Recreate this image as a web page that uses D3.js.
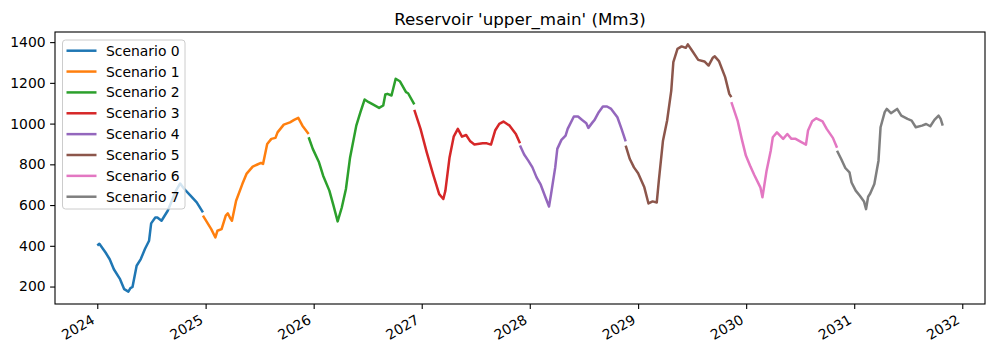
<!DOCTYPE html>
<html>
<head>
<meta charset="utf-8">
<script src="https://cdn.jsdelivr.net/npm/d3@7"></script>
<style>
  body { margin: 0; background: #fff; }
  svg { font-family: "DejaVu Sans", sans-serif; }
</style>
</head>
<body>
<div id="container"></div>
<script>
/* DATA */
// each scenario: [week offset within scenario, storage Mm3]
const scenarioNames = ["Scenario 0", "Scenario 1", "Scenario 2", "Scenario 3",
  "Scenario 4", "Scenario 5", "Scenario 6", "Scenario 7"]
const colors = ["#1f77b4", "#ff7f0e", "#2ca02c", "#d62728",
  "#9467bd", "#8c564b", "#e377c2", "#7f7f7f"]
const firstDate = new Date(2024, 0, 1)
const weeksPerScenario = 51
const yTicks = [200, 400, 600, 800, 1000, 1200, 1400]
const xTickYears = [2024, 2025, 2026, 2027, 2028, 2029, 2030, 2031, 2032]

const s0 = [[0,402],[1,410],[4,367],[6,334],[8,285],[11,236],[13,187],[15,175],[16,192],[17,198],[19,302],[21,335],[23,384],[25,425],[26,510],[28,539],[29,539],[31,523],[34,572],[36,621],[38,671],[40,706],[42,679],[45,646],[48,613],[51,564]]
const s1 = [[0,548],[2,515],[4,482],[6,441],[7,474],[9,482],[11,548],[12,559],[13,539],[14,523],[16,621],[19,703],[21,753],[24,789],[26,798],[28,807],[29,802],[31,900],[33,925],[35,930],[36,957],[39,995],[42,1006],[44,1018],[46,1028],[48,990],[51,949]]
const s2 = [[0,933],[2,876],[5,810],[7,744],[10,671],[12,597],[14,520],[16,588],[18,679],[20,834],[23,990],[25,1056],[27,1118],[29,1105],[31,1094],[34,1077],[36,1089],[37,1143],[38,1146],[40,1138],[42,1220],[44,1208],[47,1154],[48,1149],[51,1094]]
const s3 = [[0,1067],[3,974],[6,859],[9,753],[12,654],[14,630],[15,671],[17,834],[19,936],[21,974],[23,936],[25,944],[27,913],[29,897],[33,903],[35,903],[37,897],[39,966],[41,999],[43,1010],[46,990],[49,949],[51,903]]
const s4 = [[0,892],[2,848],[4,818],[6,785],[8,736],[10,700],[12,646],[14,593],[15,654],[17,785],[18,876],[20,920],[22,941],[23,974],[26,1035],[28,1035],[30,1018],[32,1002],[33,979],[35,1006],[36,1018],[38,1056],[40,1084],[42,1084],[44,1072],[47,1031],[49,974],[51,913]]
const s5 = [[0,892],[2,826],[4,785],[6,756],[9,687],[11,608],[13,618],[15,613],[16,720],[18,916],[20,1015],[22,1162],[23,1302],[25,1367],[27,1379],[29,1372],[30,1389],[32,1359],[35,1313],[38,1305],[40,1285],[42,1323],[43,1330],[45,1307],[48,1228],[50,1146],[51,1130]]
const s6 = [[0,1105],[3,1015],[5,925],[7,843],[9,794],[11,749],[14,687],[15,638],[17,769],[19,867],[20,933],[22,957],[25,925],[27,949],[29,925],[31,925],[34,908],[36,897],[37,966],[39,1011],[41,1026],[44,1011],[46,974],[49,930],[51,881]]
const s7 = [[0,867],[2,826],[4,782],[6,761],[7,711],[9,671],[11,646],[13,618],[14,580],[15,641],[16,657],[18,703],[20,818],[21,982],[23,1056],[24,1072],[26,1051],[29,1072],[31,1039],[34,1023],[36,1015],[38,982],[41,990],[43,998],[45,987],[47,1018],[49,1039],[50,1023],[51,990]]
const scenarios = [s0, s1, s2, s3, s4, s5, s6, s7]

/* CONSTANTS */
const width = 994, height = 353
const margin = { top: 32, bottom: 49, left: 55, right: 9 }

// turn week offsets into dates
const series = scenarios.map((s, i) => s.map(([w, v]) =>
  ({ date: d3.timeDay.offset(firstDate, (i * weeksPerScenario + w) * 7), value: v })))
const all = series.flat()

/* SCALES */
// matplotlib-like 5% padding on both axes
const pad = (lo, hi) => [lo - (hi - lo) * 0.05, hi + (hi - lo) * 0.05]
const [t0, t1] = d3.extent(all, d => +d.date)
const xScale = d3.scaleTime()
  .domain(pad(t0, t1).map(t => new Date(t)))
  .range([margin.left, width - margin.right])
const yScale = d3.scaleLinear()
  .domain(pad(...d3.extent(all, d => d.value)))
  .range([height - margin.bottom, margin.top])

/* SVG */
const svg = d3.select("#container").append("svg")
  .attr("width", width)
  .attr("height", height)

// lines
const line = d3.line()
  .x(d => xScale(d.date))
  .y(d => yScale(d.value))
svg.selectAll(".series")
  .data(series)
  .join("path")
  .attr("class", "series")
  .attr("fill", "none")
  .attr("stroke", (_, i) => colors[i])
  .attr("stroke-width", 2.5)
  .attr("stroke-linejoin", "round")
  .attr("stroke-linecap", "butt")
  .attr("d", line)

// axes
const xAxis = d3.axisBottom(xScale)
  .tickValues(xTickYears.map(y => new Date(y, 0, 1)))
  .tickFormat(d3.timeFormat("%Y"))
  .tickSizeOuter(0).tickSize(4.9).tickPadding(4)
const gx = svg.append("g")
  .attr("transform", `translate(0,${height - margin.bottom})`)
  .call(xAxis)
gx.selectAll("text")
  .attr("text-anchor", "end")
  .attr("dy", null)
  .attr("y", 0)
  .attr("transform", "translate(-2,18.5) rotate(-30)")

const yAxis = d3.axisLeft(yScale)
  .tickValues(yTicks)
  .tickFormat(d3.format("d"))
  .tickSizeOuter(0).tickSize(4.9).tickPadding(4.5)
svg.append("g")
  .attr("transform", `translate(${margin.left},0)`)
  .call(yAxis)

svg.selectAll(".tick text")
  .attr("fill", "#000")
  .style("font-size", "13.9px")
  .style("font-family", "DejaVu Sans")
svg.selectAll(".tick line").attr("stroke", "#000").attr("stroke-width", 1.1)
svg.selectAll(".domain").remove()

// frame
svg.append("rect")
  .attr("x", margin.left)
  .attr("y", margin.top)
  .attr("width", width - margin.left - margin.right)
  .attr("height", height - margin.top - margin.bottom)
  .attr("fill", "none")
  .attr("stroke", "#000")
  .attr("stroke-width", 1.1)

// title
svg.append("text")
  .attr("x", (margin.left + width - margin.right) / 2)
  .attr("y", 25)
  .attr("text-anchor", "middle")
  .style("font-size", "16.7px")
  .text("Reservoir 'upper_main' (Mm3)")

// legend
const legend = svg.append("g").attr("transform", "translate(62.5,40)")
legend.append("rect")
  .attr("width", 122.5)
  .attr("height", 169)
  .attr("rx", 3)
  .attr("fill", "#fff")
  .attr("fill-opacity", 0.8)
  .attr("stroke", "#cccccc")
  .attr("stroke-width", 1)
const rows = legend.selectAll(".row")
  .data(scenarioNames)
  .join("g")
  .attr("class", "row")
  .attr("transform", (_, i) => `translate(0,${10.7 + i * 20.86})`)
rows.append("line")
  .attr("x1", 4).attr("x2", 34)
  .attr("stroke", (_, i) => colors[i])
  .attr("stroke-width", 2.5)
rows.append("text")
  .attr("x", 43.5)
  .attr("y", 5)
  .style("font-size", "13.9px")
  .text(d => d)
</script>
</body>
</html>
